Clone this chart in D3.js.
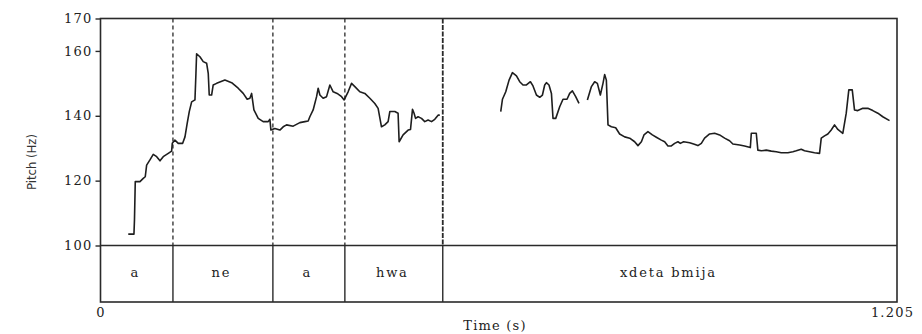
<!DOCTYPE html>
<html>
<head>
<meta charset="utf-8">
<script src="https://cdn.jsdelivr.net/npm/d3@7"></script>
<style>
  html, body { margin: 0; padding: 0; background: #fff; }
  svg { display: block; }
</style>
</head>
<body>
<svg id="chart" width="922" height="334"></svg>
<script>
// ---- data ----
const yTicks = [100, 120, 140, 160, 170];
const xTickValues = [0, 1.205];
const xTickLabels = ["0", "1.205"];
const boundaries = [0.1096, 0.2608, 0.3697, 0.5178];
const segmentLabels = ["a", "ne", "a", "hwa", "xdeta bmija"];
const segmentEdges = [0, 0.1096, 0.2608, 0.3697, 0.5178, 1.205];

// pitch (time s, Hz) – voiced stretches
const pitchRun1 = [
  [0.0420,103.5],[0.0506,103.5],[0.0514,107.9],[0.0526,119.7],[0.0597,119.7],[0.0647,120.7],
  [0.0677,121.2],[0.0698,124.8],[0.0748,126.4],[0.0798,128.1],[0.0850,127.4],[0.0900,126.1],
  [0.0949,127.4],[0.1025,128.4],[0.1076,129.1],[0.1086,131.5],[0.1126,132.5],[0.1176,131.5],
  [0.1243,131.5],[0.1278,133.5],[0.1312,137.7],[0.1343,141.3],[0.1379,144.3],[0.1429,144.9],
  [0.1444,153.1],[0.1454,159.1],[0.1504,158.2],[0.1554,156.7],[0.1606,156.2],[0.1630,153.1],
  [0.1645,146.4],[0.1681,146.4],[0.1705,149.5],[0.1757,150.0],[0.1882,151.0],[0.1984,150.2],
  [0.2083,148.5],[0.2159,146.9],[0.2219,145.1],[0.2260,145.4],[0.2286,146.9],[0.2321,141.8],
  [0.2386,139.2],[0.2461,138.2],[0.2537,138.2],[0.2563,138.9],[0.2578,135.6],[0.2638,136.1],
  [0.2714,135.6],[0.2764,136.6],[0.2815,137.2],[0.2915,136.8],[0.3016,137.9],[0.3092,138.2],
  [0.3142,138.4],[0.3167,139.7],[0.3217,141.8],[0.3269,145.9],[0.3293,148.5],[0.3319,146.4],
  [0.3368,145.4],[0.3420,145.9],[0.3470,149.5],[0.3520,147.4],[0.3580,146.9],[0.3647,145.9],
  [0.3686,144.9],[0.3746,147.4],[0.3798,150.0],[0.3848,149.0],[0.3923,147.4],[0.3999,146.9],
  [0.4075,145.4],[0.4150,143.8],[0.4200,142.3],[0.4251,136.6],[0.4301,137.2],[0.4351,138.2],
  [0.4377,141.3],[0.4453,141.3],[0.4502,140.8],[0.4518,132.0],[0.4578,134.1],[0.4654,135.6],
  [0.4690,135.8],[0.4720,142.0],[0.4744,140.8],[0.4766,139.2],[0.4805,139.7],[0.4856,139.2],
  [0.4906,138.2],[0.4956,138.7],[0.5008,138.2],[0.5057,138.9],[0.5107,140.2],[0.5133,140.2]
];
const pitchRun2 = [
  [0.6055,141.3],[0.6081,145.1],[0.6131,147.4],[0.6181,151.0],[0.6232,153.3],[0.6293,152.3],
  [0.6342,150.5],[0.6392,149.5],[0.6444,149.5],[0.6504,150.5],[0.6543,149.2],[0.6595,146.4],
  [0.6645,145.7],[0.6686,146.4],[0.6720,149.5],[0.6746,150.2],[0.6785,149.5],[0.6822,146.9],
  [0.6846,139.2],[0.6887,139.2],[0.6947,142.8],[0.6997,145.1],[0.7058,145.1],[0.7098,146.9],
  [0.7139,147.7],[0.7189,145.9],[0.7239,143.8]
];
const pitchRun3 = [
  [0.7366,144.9],[0.7427,149.0],[0.7476,150.5],[0.7517,150.0],[0.7562,146.4],[0.7602,150.0],
  [0.7627,152.7],[0.7653,151.0],[0.7678,137.2],[0.7729,136.6],[0.7794,136.3],[0.7854,134.4],
  [0.7930,133.5],[0.8006,133.1],[0.8081,132.0],[0.8131,130.8],[0.8183,132.0],[0.8222,134.1],
  [0.8282,135.1],[0.8349,134.1],[0.8409,133.4],[0.8485,132.5],[0.8535,132.0],[0.8585,130.7],
  [0.8636,130.7],[0.8686,131.5],[0.8736,132.0],[0.8772,131.5],[0.8822,132.0],[0.8913,131.7],
  [0.8973,131.3],[0.9038,130.8],[0.9090,131.5],[0.9139,133.1],[0.9215,134.4],[0.9291,134.6],
  [0.9366,134.1],[0.9442,133.1],[0.9517,132.3],[0.9567,131.3],[0.9669,131.0],[0.9744,130.7],
  [0.9831,130.2],[0.9846,134.6],[0.9921,134.6],[0.9945,129.4],[0.9997,129.2],[1.0072,129.4],
  [1.0148,129.1],[1.0223,128.9],[1.0299,128.6],[1.0399,128.6],[1.0475,128.9],[1.0526,129.2],
  [1.0601,129.7],[1.0651,129.2],[1.0727,128.9],[1.0802,128.6],[1.0878,128.4],[1.0904,133.1],
  [1.0954,133.8],[1.1004,134.4],[1.1055,135.6],[1.1105,137.2],[1.1155,135.8],[1.1230,134.6],
  [1.1282,140.8],[1.1321,148.0],[1.1373,148.0],[1.1407,141.8],[1.1457,141.6],[1.1533,142.3],
  [1.1608,142.3],[1.1684,141.6],[1.1760,140.8],[1.1835,139.7],[1.1937,138.5]
];
const pitchRuns = [pitchRun1, pitchRun2, pitchRun3];

// ---- layout ----
const plotLeft = 100.5, plotRight = 897, plotTop = 18.5, pitchBottom = 245.5, tierBottom = 302;
const ink = "#2a2a2a";
const serif = "'DejaVu Serif', 'Liberation Serif', serif";

const svg = d3.select("#chart");
const x = d3.scaleLinear().domain([0, 1.205]).range([plotLeft, plotRight]);
const y = d3.scaleLinear().domain([100, 170]).range([pitchBottom, plotTop]);

// frame
svg.append("rect")
  .attr("x", plotLeft).attr("y", plotTop)
  .attr("width", plotRight - plotLeft).attr("height", tierBottom - plotTop)
  .attr("fill", "none").attr("stroke", ink).attr("stroke-width", 1.6);
svg.append("line")
  .attr("x1", plotLeft).attr("x2", plotRight)
  .attr("y1", y(100)).attr("y2", y(100))
  .attr("stroke", ink).attr("stroke-width", 1.6);

// boundaries: dashed in pitch area, solid in tier
svg.selectAll("line.bd").data(boundaries).enter().append("line")
  .attr("class", "bd")
  .attr("x1", d => x(d)).attr("x2", d => x(d))
  .attr("y1", plotTop).attr("y2", pitchBottom)
  .attr("stroke", ink)
  .attr("stroke-width", (d, i) => i === boundaries.length - 1 ? 1.8 : 1.3)
  .attr("stroke-dasharray", (d, i) => i === boundaries.length - 1 ? "5,1.5" : "4,3");
svg.selectAll("line.bt").data(boundaries).enter().append("line")
  .attr("class", "bt")
  .attr("x1", d => x(d)).attr("x2", d => x(d))
  .attr("y1", pitchBottom).attr("y2", tierBottom)
  .attr("stroke", ink).attr("stroke-width", 1.4);

// segment labels
svg.selectAll("text.seg").data(segmentLabels).enter().append("text")
  .attr("class", "seg")
  .attr("x", (d, i) => (x(segmentEdges[i]) + x(segmentEdges[i + 1])) / 2 - 1.5)
  .attr("y", 277)
  .attr("text-anchor", "middle")
  .attr("font-family", serif).attr("font-size", 13)
  .attr("letter-spacing", 1.8)
  .attr("fill", "#222")
  .text(d => d);

// y axis
const yAxis = d3.axisLeft(y).tickValues(yTicks).tickSize(5).tickPadding(3).tickFormat(d3.format("d"));
const gy = svg.append("g").attr("transform", `translate(${plotLeft},0)`).call(yAxis);
gy.select(".domain").remove();
gy.selectAll(".tick line").attr("stroke", ink).attr("stroke-width", 1.4);
gy.selectAll(".tick text")
  .attr("font-family", serif).attr("font-size", 13)
  .attr("letter-spacing", 1.2).attr("fill", "#222");

// x axis labels
const xAxis = d3.axisBottom(x).tickValues(xTickValues).tickSize(0).tickPadding(6)
  .tickFormat((d, i) => xTickLabels[i]);
const gx = svg.append("g").attr("transform", `translate(0,${tierBottom})`).call(xAxis);
gx.select(".domain").remove();
gx.selectAll(".tick text")
  .attr("font-family", serif).attr("font-size", 13)
  .attr("letter-spacing", 1.2).attr("fill", "#222")
  .attr("dx", (d, i) => i === 1 ? -5 : 0);

// axis titles
svg.append("text")
  .attr("x", 495).attr("y", 330)
  .attr("text-anchor", "middle")
  .attr("font-family", serif).attr("font-size", 13)
  .attr("letter-spacing", 1.2).attr("fill", "#222")
  .text("Time (s)");
svg.append("text")
  .attr("transform", "translate(36,162) rotate(-90)")
  .attr("text-anchor", "middle")
  .attr("font-family", "'Liberation Sans Narrow', 'DejaVu Sans Condensed', 'Liberation Sans', sans-serif")
  .attr("font-size", 13)
  .attr("textLength", 56).attr("lengthAdjust", "spacingAndGlyphs")
  .attr("fill", "#333")
  .text("Pitch (Hz)");

// pitch curve
const line = d3.line().x(d => x(d[0])).y(d => y(d[1]));
svg.selectAll("path.pitch").data(pitchRuns).enter().append("path")
  .attr("class", "pitch")
  .attr("d", line)
  .attr("fill", "none")
  .attr("stroke", "#1e1e1e")
  .attr("stroke-width", 1.6)
  .attr("stroke-linejoin", "round");
</script>
</body>
</html>
